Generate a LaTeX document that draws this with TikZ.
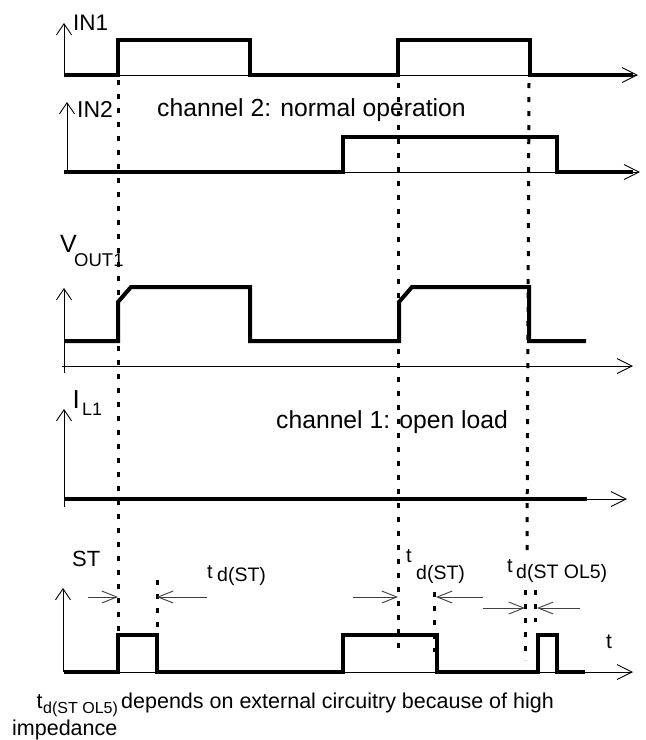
\documentclass[tikz,border=0pt]{standalone}
\usepackage{fontspec}
\setmainfont{Liberation Sans}
\usetikzlibrary{arrows.meta}
\newcommand{\fsz}[1]{\fontsize{#1}{#1}\selectfont}
\begin{document}
\begin{tikzpicture}[x=1pt,y=-1pt,
  sig/.style={line width=4pt, line join=miter, line cap=butt},
  haxis/.style={line width=0.9pt, -{Straight Barb[length=15pt,width=15pt,line width=0.9pt]}},
  vaxis/.style={line width=0.9pt, -{Straight Barb[length=11pt,width=15pt,line width=0.9pt]}},
  dotline/.style={line width=3pt, dash pattern=on 5pt off 9pt},
  dimarrow/.style={line width=0.9pt, black!75, -{Straight Barb[length=15pt,width=12pt,line width=0.9pt]}},
  lbl/.style={inner sep=0pt, anchor=base west}]
\path[use as bounding box] (0,0) rectangle (646,740);

% ---------- axes ----------
\coordinate (o1) at (64,75);   \coordinate (y1) at (64,23);   \coordinate (x1) at (638,75);
\coordinate (o2) at (67,172);  \coordinate (y2) at (67,102);  \coordinate (s2) at (64,172); \coordinate (x2) at (640,172);
\coordinate (o3) at (64,373);  \coordinate (y3) at (64,288);  \coordinate (s3) at (62,366); \coordinate (x3) at (633,366);
\coordinate (o4) at (64,507);  \coordinate (y4) at (64,409);  \coordinate (s4) at (64,499); \coordinate (x4) at (627,499);
\coordinate (o5) at (63,672);  \coordinate (y5) at (63,588);  \coordinate (s5) at (64,672); \coordinate (x5) at (633,672);
\draw[vaxis] (o1) -- (y1);
\draw[haxis] (o1) -- (x1);
\draw[vaxis] (o2) -- (y2);
\draw[haxis] (s2) -- (x2);
\draw[vaxis] (o3) -- (y3);
\draw[haxis] (s3) -- (x3);
\draw[vaxis] (o4) -- (y4);
\draw[haxis] (s4) -- (x4);
\draw[vaxis] (o5) -- (y5);
\draw[haxis] (s5) -- (x5);

% ---------- dotted timing lines ----------
\draw[dotline] (118,80) -- (118,633);
\draw[dotline] (398,83) -- (398,652);
\draw[dotline] (529,83) -- (527,550);
\draw[dotline] (157,580) -- (157,632);
\draw[dotline] (434,592) -- (434,652);
\draw[dotline] (525,590) -- (525,660);
\draw[dotline] (535,590) -- (535,622);

% ---------- signals ----------
\draw[sig] (64,75) -- (118,75) -- (118,40) -- (250,40) -- (250,75) -- (398,75) -- (398,40) -- (530,40) -- (530,75) -- (633,75);
\draw[sig] (64,172) -- (343,172) -- (343,137) -- (557,137) -- (557,172) -- (633,172);
\draw[sig] (64,341) -- (118,341) -- (118,302) -- (131,287) -- (250,287) -- (250,341) -- (399,341) -- (399,302) -- (412,287) -- (529,287) -- (529,341) -- (586,341);
\draw[sig] (64,499) -- (587,499);
\draw[sig] (64,672) -- (118,672) -- (118,635) -- (157,635) -- (157,672) -- (343,672) -- (343,635) -- (437,635) -- (437,672) -- (538,672) -- (538,635) -- (557,635) -- (557,672) -- (585,672);

% ---------- delay arrows ----------
\coordinate (a1) at (88,597);  \coordinate (b1) at (118,597);
\coordinate (a2) at (207,597); \coordinate (b2) at (157,597);
\coordinate (a3) at (353,597); \coordinate (b3) at (398,597);
\coordinate (a4) at (483,597); \coordinate (b4) at (436,597);
\coordinate (a5) at (483,608); \coordinate (b5) at (525,608);
\coordinate (a6) at (580,608); \coordinate (b6) at (537,608);
\draw[dimarrow] (a1) -- (b1);
\draw[dimarrow] (a2) -- (b2);
\draw[dimarrow] (a3) -- (b3);
\draw[dimarrow] (a4) -- (b4);
\draw[dimarrow] (a5) -- (b5);
\draw[dimarrow] (a6) -- (b6);

% ---------- labels ----------
\node[lbl] (lin1) at (73,30) {\fsz{22.5}IN1};
\node[lbl] (lin2) at (77,117) {\fsz{23}IN2};
\node[lbl] (lch2) at (157,116) {\fsz{24.7}channel 2: normal operation};
\node[lbl] (lv) at (60,252) {\fsz{25}V};
\node[lbl] (lvs) at (74,266) {\fsz{18.5}OUT1};
\node[lbl] (li) at (72.5,408) {\fsz{26}I};
\node[lbl] (lis) at (82,415) {\fsz{18}L1};
\node[lbl] (lch1) at (276,428) {\fsz{24.7}channel 1: open load};
\node[lbl] (lst) at (72,566) {\fsz{22}ST};
\node[lbl] (t1) at (207,578) {\fsz{20}t};
\node[lbl] (t1s) at (217,581) {\fsz{19.5}d(ST)};
\node[lbl] (t2) at (406,562) {\fsz{20}t};
\node[lbl] (t2s) at (416,579) {\fsz{19.5}d(ST)};
\node[lbl] (t3) at (507,572) {\fsz{20}t};
\node[lbl] (t3s) at (516,578) {\fsz{19.5}d(ST OL5)};
\node[lbl] (tax) at (606,648) {\fsz{21}t};
\node[lbl] (n1) at (36.5,708) {\fsz{21.5}t};
\node[lbl] (n1s) at (43,713) {\fsz{16}d(ST OL5)};
\node[lbl] (n2) at (121,708) {\fsz{21.5}depends on external circuitry because of high};
\node[lbl] (n3) at (12,735) {\fsz{21.5}impedance};
\end{tikzpicture}
\end{document}
